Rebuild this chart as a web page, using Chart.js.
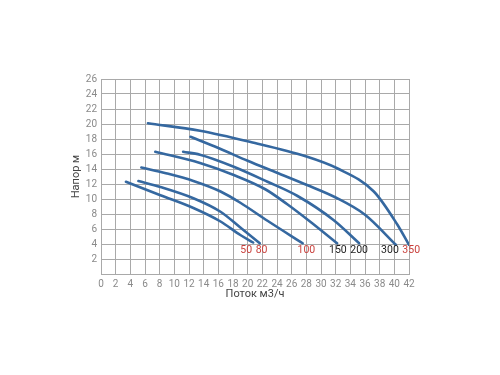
<!DOCTYPE html>
<html>
<head>
<meta charset="utf-8">
<script src="https://cdn.jsdelivr.net/npm/chart.js@4/dist/chart.umd.min.js"></script>
<style>
  html, body { margin: 0; padding: 0; background: #fff; }
  #wrap { width: 500px; height: 375px; }
</style>
</head>
<body>
<div id="wrap"><canvas id="chart-canvas" width="500" height="375"></canvas></div>
<script>
'use strict';

/* CURVE DATA (flow m3/h, head m) */
const flow50 = [3.4, 8.1, 12.6, 16.3, 19.0, 20.75];
const head50 = [12.3, 10.5, 8.8, 7.0, 5.2, 4.2];

const flow80 = [5.1, 8.1, 12.6, 16.3, 19.0, 21.65];
const head80 = [12.4, 11.6, 10.1, 8.3, 6.2, 4.1];

const flow100 = [5.5, 9.0, 12.6, 16.3, 19.0, 22.7, 27.5];
const head100 = [14.2, 13.4, 12.4, 11.0, 9.5, 7.1, 4.1];

const flow150 = [7.4, 13.5, 18.1, 22.4, 25.4, 28.5, 32.2];
const head150 = [16.3, 14.8, 13.2, 11.3, 9.3, 7.0, 4.1];

const flow200 = [11.2, 13.5, 18.1, 22.7, 26.8, 31.7, 35.2];
const head200 = [16.3, 15.9, 14.3, 12.3, 10.4, 7.2, 4.1];

const flow300 = [12.2, 16.0, 20.0, 24.0, 28.0, 32.0, 36.0, 40.2];
const head300 = [18.3, 16.8, 15.1, 13.5, 11.9, 10.2, 7.9, 3.9];

const flow350 = [6.4, 13.5, 20.4, 27.9, 32.2, 37.2, 40.4, 42.0];
const head350 = [20.1, 19.1, 17.6, 15.7, 14.1, 11.0, 6.6, 3.9];

/* CURVE LABELS */
const curveNames = ['50', '80', '100', '150', '200', '300', '350'];
const labelFlow = [19.8, 21.9, 28.0, 32.3, 35.2, 39.4, 42.3];
const labelHead = 3.1;
const labelRed = [true, true, true, false, false, false, true];

/* AXIS TICKS */
const xTicksMax = 42;
const yTicksMax = 26;
const tickStep = 2;

const curves = [
  [flow50, head50], [flow80, head80], [flow100, head100], [flow150, head150],
  [flow200, head200], [flow300, head300], [flow350, head350]
];

const datasets = curves.map((c, i) => ({
  label: curveNames[i],
  data: c[0].map((x, j) => ({ x: x, y: c[1][j] })),
  showLine: true,
  borderColor: '#3568a0',
  borderWidth: 2.6,
  pointRadius: 0,
  cubicInterpolationMode: 'monotone',
  borderCapStyle: 'round'
}));

// writes the model numbers under the end of each curve
const curveLabels = {
  id: 'curveLabels',
  afterDatasetsDraw(chart) {
    const ctx = chart.ctx;
    const xs = chart.scales.x;
    const ys = chart.scales.y;
    ctx.save();
    ctx.font = '10.5px Roboto, sans-serif';
    ctx.textAlign = 'center';
    ctx.textBaseline = 'middle';
    curveNames.forEach((name, i) => {
      ctx.fillStyle = labelRed[i] ? '#c9403c' : '#222';
      ctx.fillText(name, xs.getPixelForValue(labelFlow[i]), ys.getPixelForValue(labelHead));
    });
    ctx.restore();
  }
};

const ctx = document.getElementById('chart-canvas').getContext('2d');

new Chart(ctx, {
  type: 'scatter',
  data: { datasets: datasets },
  plugins: [curveLabels],
  options: {
    responsive: false,
    animation: false,
    layout: { padding: { left: 66, top: 79, right: 91, bottom: 70 } },
    plugins: {
      legend: { display: false },
      tooltip: { enabled: false }
    },
    scales: {
      x: {
        type: 'linear',
        min: 0,
        max: xTicksMax,
        afterFit: (scale) => { scale.height = 31; },
        grid: { color: '#a9a9a9', lineWidth: 1, drawTicks: false },
        border: { color: '#a9a9a9' },
        ticks: {
          stepSize: tickStep,
          padding: 4,
          color: '#8a8a8a',
          font: { size: 10, family: 'Roboto, sans-serif' },
          maxRotation: 0
        },
        title: {
          display: true,
          text: 'Поток м3/ч',
          color: '#444',
          font: { size: 11, family: 'Roboto, sans-serif' }
        }
      },
      y: {
        type: 'linear',
        min: 0,
        max: yTicksMax,
        afterFit: (scale) => { scale.width = 35; },
        grid: { color: '#a9a9a9', lineWidth: 1, drawTicks: false },
        border: { color: '#a9a9a9' },
        ticks: {
          stepSize: tickStep,
          padding: 4,
          color: '#8a8a8a',
          font: { size: 10, family: 'Roboto, sans-serif' },
          callback: (v) => (v === 0 ? '' : v)
        },
        title: {
          display: true,
          text: 'Напор м',
          color: '#444',
          font: { size: 11, family: 'Roboto, sans-serif' }
        }
      }
    }
  }
});
</script>
</body>
</html>
